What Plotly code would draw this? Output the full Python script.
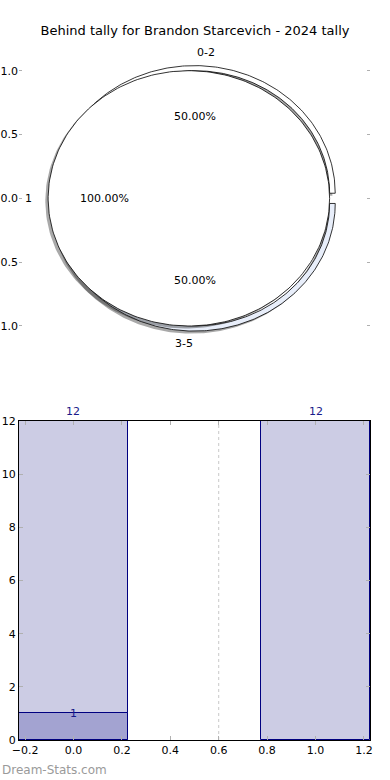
import numpy as np
import plotly.graph_objects as go

# ---------------- data ----------------
title_text = "Behind tally for Brandon Starcevich - 2024 tally"

outer_labels = ["0-2", "3-5"]
outer_values = [12, 12]
outer_colors = ["#ffffff", "#e8eefa"]

inner_labels = ["1"]
inner_values = [1]
inner_colors = ["#ffffff"]

bar_positions = [0, 1]
bar_totals = [12, 12]
sub_positions = [0]
sub_values = [1]

pie_yticks = [-1.0, -0.5, 0.0, 0.5, 1.0]
bar_xticks = [-0.2, 0.0, 0.2, 0.4, 0.6, 0.8, 1.0, 1.2]
bar_yticks = [0, 2, 4, 6, 8, 10, 12]
divider_x = [0.6]

watermark = "Dream-Stats.com"

# ---------------- style ----------------
FONT = "DejaVu Sans"
EXPLODE = 0.04
RING_WIDTH = 0.04
EDGE = "#000000"
BAR_LIGHT = "#ccccE4"
BAR_DARK = "#a3a3d1"
BAR_EDGE = "#000080"
TICK_GREY = "#b0b0b0"
SHADOW = "rgba(40,40,40,0.4)"

W, H = 390, 780
ax_left, ax_right = 19, 370


def wedge_path(cx, cy, r_out, r_in, t1, t2, n=240):
    th = np.radians(np.linspace(t1, t2, n))
    xo = cx + r_out * np.cos(th)
    yo = cy + r_out * np.sin(th)
    if r_in > 0:
        xi = cx + r_in * np.cos(th[::-1])
        yi = cy + r_in * np.sin(th[::-1])
        xs = np.concatenate([xo, xi, xo[:1]])
        ys = np.concatenate([yo, yi, yo[:1]])
    elif abs(t2 - t1 - 360) < 1e-9:
        xs, ys = xo, yo
    else:
        xs = np.concatenate([[cx], xo, [cx]])
        ys = np.concatenate([[cy], yo, [cy]])
    return xs, ys


def pie_geometry(values, radius, width):
    total = float(sum(values))
    start = 0.0
    out = []
    for v in values:
        span = 360.0 * v / total
        mid = np.radians(start + span / 2)
        cx, cy = EXPLODE * np.cos(mid), EXPLODE * np.sin(mid)
        out.append(dict(t1=start, t2=start + span, cx=cx, cy=cy, mid=mid,
                        r_out=radius, r_in=(radius - width) if width else 0.0,
                        pct=100.0 * v / total))
        start += span
    return out


fig = go.Figure()
annotations = []

inner_geo = pie_geometry(inner_values, 1.0, None)
outer_geo = pie_geometry(outer_values, 1.0, RING_WIDTH)


def draw_pie(geo, labels, colors):
    for g in geo:
        xs, ys = wedge_path(g["cx"] - 0.02, g["cy"] - 0.02, g["r_out"], g["r_in"], g["t1"], g["t2"])
        fig.add_trace(go.Scatter(x=xs, y=ys, mode="lines", fill="toself", fillcolor=SHADOW,
                                 line=dict(width=0), hoverinfo="skip", showlegend=False,
                                 xaxis="x", yaxis="y"))
    for g, lab, col in zip(geo, labels, colors):
        xs, ys = wedge_path(g["cx"], g["cy"], g["r_out"], g["r_in"], g["t1"], g["t2"])
        fig.add_trace(go.Scatter(x=xs, y=ys, mode="lines", fill="toself", fillcolor=col,
                                 line=dict(color=EDGE, width=0.8), hoverinfo="skip",
                                 showlegend=False, xaxis="x", yaxis="y"))
        lx = g["cx"] + 1.1 * g["r_out"] * np.cos(g["mid"])
        ly = g["cy"] + 1.1 * g["r_out"] * np.sin(g["mid"])
        annotations.append(dict(x=lx, y=ly, xref="x", yref="y", text=lab, showarrow=False,
                                xanchor="left" if lx > 0 else "right", yanchor="middle",
                                font=dict(family=FONT, size=11, color="#000000")))
        px_ = g["cx"] + 0.6 * g["r_out"] * np.cos(g["mid"])
        py_ = g["cy"] + 0.6 * g["r_out"] * np.sin(g["mid"])
        annotations.append(dict(x=px_, y=py_, xref="x", yref="y", text="%.2f%%" % g["pct"],
                                showarrow=False, xanchor="center", yanchor="middle",
                                font=dict(family=FONT, size=11, color="#000000")))


draw_pie(outer_geo, outer_labels, outer_colors)
draw_pie(inner_geo, inner_labels, inner_colors)

# ---------------- bars ----------------
fig.add_trace(go.Bar(x=bar_positions, y=bar_totals, width=0.45,
                     marker=dict(color=BAR_LIGHT, line=dict(color=BAR_EDGE, width=1)),
                     xaxis="x2", yaxis="y2", showlegend=False, hoverinfo="skip"))
fig.add_trace(go.Bar(x=sub_positions, y=sub_values, width=0.45,
                     marker=dict(color=BAR_DARK, line=dict(color=BAR_EDGE, width=1)),
                     xaxis="x2", yaxis="y2", showlegend=False, hoverinfo="skip"))

for x, v in zip(bar_positions, bar_totals):
    annotations.append(dict(x=x, y=v, xref="x2", yref="y2", text=str(v), showarrow=False,
                            xanchor="center", yanchor="bottom", yshift=1,
                            font=dict(family=FONT, size=11, color="#1a1a8a")))
for x, v in zip(sub_positions, sub_values):
    annotations.append(dict(x=x, y=v, xref="x2", yref="y2", text=str(v), showarrow=False,
                            xanchor="center", yanchor="middle",
                            font=dict(family=FONT, size=11, color="#1a1a8a")))

annotations.append(dict(x=0, y=1 - 770 / H, xref="paper", yref="paper", text=watermark,
                        showarrow=False, xanchor="left", yanchor="middle",
                        font=dict(family=FONT, size=12, color="#9a9a9a")))

shapes = [dict(type="line", xref="x2", yref="y2 domain", x0=d, x1=d, y0=0, y1=1,
               line=dict(color="#c8c8c8", width=1, dash="dot"), layer="below")
          for d in divider_x]

xdom = [ax_left / W, ax_right / W]
pie_top, pie_bot = 38.8, 357.9
bar_top, bar_bot = 421, 740

fig.update_layout(
    width=W, height=H, autosize=False,
    margin=dict(l=0, r=0, t=0, b=0),
    paper_bgcolor="white", plot_bgcolor="rgba(0,0,0,0)",
    barmode="overlay", bargap=0,
    title=dict(text=title_text, x=0.5, xanchor="center", y=1 - 30 / H, yanchor="middle",
               font=dict(family=FONT, size=13, color="#000000")),
    font=dict(family=FONT, size=11, color="#000000"),
    xaxis=dict(domain=xdom, range=[-1.247, 1.247], showgrid=False, zeroline=False,
               showline=False, showticklabels=False, ticks="", fixedrange=True),
    yaxis=dict(domain=[1 - pie_bot / H, 1 - pie_top / H], range=[-1.25, 1.25],
               tickvals=pie_yticks, tickformat=".1f", ticks="inside", ticklen=3,
               tickcolor=TICK_GREY, showgrid=False, zeroline=False, showline=False,
               mirror="ticks", automargin=False, tickfont=dict(family=FONT, size=11)),
    xaxis2=dict(domain=xdom, anchor="y2", range=[-0.225, 1.225], tickvals=bar_xticks,
                tickformat=".1f", ticks="inside", ticklen=4, tickcolor=TICK_GREY,
                showline=True, linecolor="#000000", linewidth=1, mirror="ticks",
                showgrid=False, zeroline=False, automargin=False,
                tickfont=dict(family=FONT, size=11)),
    yaxis2=dict(domain=[1 - bar_bot / H, 1 - bar_top / H], anchor="x2", range=[0, 12],
                tickvals=bar_yticks, ticks="inside", ticklen=4, tickcolor=TICK_GREY,
                showline=True, linecolor="#000000", linewidth=1, mirror="ticks",
                showgrid=False, zeroline=False, automargin=False,
                tickfont=dict(family=FONT, size=11)),
    annotations=annotations,
    shapes=shapes,
)

fig.write_html("out.html", config={"displayModeBar": False},
               post_script="document.body.style.margin='0px';document.body.style.padding='0px';")
